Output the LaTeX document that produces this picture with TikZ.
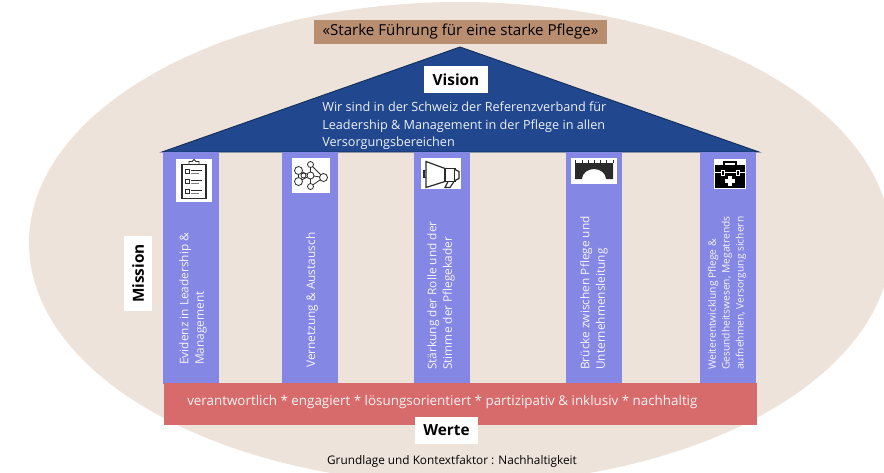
\documentclass[tikz,border=0pt]{standalone}
\usepackage{fontspec}
\usetikzlibrary{shapes.geometric}
\setmainfont{Open Sans}
\definecolor{sand}{HTML}{EDE3DB}
\definecolor{toffee}{HTML}{B98D70}
\definecolor{roof}{HTML}{21478F}
\definecolor{roofline}{HTML}{12305A}
\definecolor{pillar}{HTML}{8587E4}
\definecolor{band}{HTML}{D76B6B}
\definecolor{icondark}{HTML}{2A2A2A}
\tikzset{
	labelbox/.style={fill=white,inner sep=0pt,font=\bfseries\fontsize{11.5}{13}\selectfont},
	pillarbox/.style={fill=pillar,inner sep=0pt,minimum width=42pt,minimum height=174pt},
	pillartext/.style={rotate=90,anchor=west,align=left,text=white!92!pillar,inner sep=0pt,font=\fontsize{8.9}{11.6}\selectfont},
	iconbox/.style={fill=white,inner sep=0pt},
	iconline/.style={draw=icondark,line width=0.6pt,fill=white}
}
\begin{document}
\begin{tikzpicture}[x=0.75pt,y=-0.75pt]
	\useasboundingbox (0,0) rectangle (884,472);
	\clip (0,0) rectangle (884,472);
	\coordinate (Centre) at (460,243);
	\node[ellipse,fill=sand,inner sep=0pt,minimum width=646.5pt,minimum height=361.5pt] (ground) at (Centre) {};
	
	% roof and pillars
	\coordinate (Left) at (162,152);
	\coordinate (Apex) at (460,47);
	\coordinate (Right) at (759,152);
	\draw[fill=roof,draw=roofline,line width=0.7pt] (Left) -- (Apex) -- (Right) -- cycle;
	
	\node[pillarbox] (pone) at (191,268) {};
	\node[pillarbox] (ptwo) at (310,268) {};
	\node[pillarbox] (pthree) at (442,268) {};
	\node[pillarbox] (pfour) at (594,268) {};
	\node[pillarbox] (pfive) at (728,268) {};
	
	\node[fill=band,inner sep=0pt,minimum width=444.75pt,minimum height=31.5pt] (werteband) at (460.5,404) {};
	\node[text=white!92!band,anchor=west,inner sep=0pt,font=\fontsize{10.04}{12}\selectfont] (wertetext) at (187,402) {verantwortlich * engagiert * lösungsorientiert * partizipativ \& inklusiv * nachhaltig};
	
	% top and side labels
	\node[fill=toffee,inner sep=0pt,minimum width=219.75pt,minimum height=18pt,font=\fontsize{11.35}{12}\selectfont] (motto) at (460.5,32) {«Starke Führung für eine starke Pflege»};
	\node[labelbox,minimum width=48pt,minimum height=20.25pt] (vision) at (456,79.5) {Vision};
	\node[anchor=north west,text=white!92!roof,align=left,inner sep=0pt,font=\fontsize{9.5}{13}\selectfont] (visiontext) at (322,102) {Wir sind in der Schweiz der Referenzverband für\\Leadership \& Management in der Pflege in allen\\Versorgungsbereichen};
	\node[labelbox,rotate=90,minimum width=56.25pt,minimum height=21pt] (mission) at (138,273.5) {Mission};
	\node[labelbox,minimum width=47.25pt,minimum height=20.25pt] (werte) at (446.5,430.5) {Werte};
	\node[font=\fontsize{8.85}{10}\selectfont,inner sep=0pt] (grundlage) at (452,461) {Grundlage und Kontextfaktor : Nachhaltigkeit};
	
	% pillar texts
	\node[pillartext] (tone) at (193,365) {Evidenz in Leadership \&\\Management};
	\node[pillartext] (ttwo) at (312,368) {Vernetzung \& Austausch};
	\node[pillartext] (tthree) at (441,370) {Stärkung der Rolle und der\\Stimme der Pflegekader};
	\node[pillartext] (tfour) at (594,370) {Brücke zwischen Pflege und\\Unternehmensleitung};
	\node[pillartext,font=\fontsize{7.7}{10.4}\selectfont] (tfive) at (727,370) {Weiterentwicklung Pflege \&\\Gesundheitswesen, Megatrends\\aufnehmen, Versorgung sichern};
	
	% icon plates
	\node[iconbox,minimum width=27pt,minimum height=32.25pt] (ione) at (194,180.5) {};
	\node[iconbox,minimum width=28.5pt,minimum height=26.25pt] (itwo) at (310.5,175.5) {};
	\node[iconbox,minimum width=30pt,minimum height=23.25pt] (ithree) at (441,173.5) {};
	\node[iconbox,minimum width=34.5pt,minimum height=19.5pt] (ifour) at (594,171) {};
	\node[iconbox,minimum width=24pt,minimum height=22.5pt] (ifive) at (730,174) {};
	
	% clipboard
	\begin{scope}[shift={(ione)}]
		\draw[iconline,line width=0.8pt] (-12,-16) rectangle (12,18);
		\draw[iconline] (-5,-16) -- (-5,-19) -- (-2,-19) -- (0,-21) -- (2,-19) -- (5,-19) -- (5,-16) -- cycle;
		\foreach \y in {-9,1,11}{
			\draw[icondark,line width=0.5pt] (-9,\y-2) rectangle (-5,\y+2);
			\draw[icondark,line width=1.2pt] (-3,\y-1) -- (8,\y-1);
			\draw[gray,line width=0.7pt] (-3,\y+1.5) -- (5,\y+1.5);
		}
	\end{scope}
	
	% network
	\begin{scope}[shift={(itwo)}]
		\coordinate (a) at (-12,-5);
		\coordinate (b) at (0,-11);
		\coordinate (c) at (13,2);
		\coordinate (d) at (0,11);
		\coordinate (e) at (-12,6);
		\coordinate (f) at (0,0);
		\coordinate (g) at (-7,0);
		\draw[iconline] (a) -- (f) -- (c) -- (b) -- (f) -- (d) -- (c);
		\draw[iconline] (e) -- (f);
		\draw[iconline] (a) -- (e);
		\foreach \p/\r in {a/4,b/3,c/4,d/3,e/4,f/3.5,g/2.5}{
			\draw[iconline] (\p) circle[radius=\r];
		}
	\end{scope}
	
	% megaphone
	\begin{scope}[shift={(ithree)}]
		\draw[iconline,line width=0.9pt] (-15,-3) -- (-17,-3) -- (-17,4) -- (-15,4);
		\draw[iconline,line width=0.9pt] (7,8) -- (4,14) -- (9,14) -- (13,8);
		\draw[iconline,line width=0.9pt] (-15,-12) -- (4,-5) -- (4,8) -- (-15,14) -- cycle;
		\draw[iconline,line width=0.9pt] (4,-5) rectangle (14,8);
		\draw[iconline,line width=0.9pt] (14,-4) -- (18,-2) -- (18,5) -- (14,7);
	\end{scope}
	
	% bridge
	\begin{scope}[shift={(ifour)}]
		\fill[icondark] (-19,-8) -- (19,-8) -- (19,8) -- (12,8) arc[start angle=0,end angle=-180,x radius=12,y radius=10] -- (-19,8) -- cycle;
		\foreach \x in {-19,-12,-6,0,6,12,19}{
			\draw[icondark,line width=0.5pt] (\x,-11) -- (\x,-8);
		}
	\end{scope}
	
	% medical case
	\begin{scope}[shift={(ifive)}]
		\draw[black,line width=1.2pt] (-6,-9) -- (-6,-12) -- (6,-12) -- (6,-9);
		\fill[black] (-15,-9) rectangle (15,14);
		\draw[white,line width=0.6pt] (-15,-2) -- (15,-2);
		\draw[white,fill=black,line width=0.6pt] (-9,-4) rectangle (-6,1);
		\draw[white,fill=black,line width=0.6pt] (6,-4) rectangle (9,1);
		\fill[white] (-2,2) rectangle (2,12);
		\fill[white] (-5,5) rectangle (5,9);
	\end{scope}
\end{tikzpicture}
\end{document}
